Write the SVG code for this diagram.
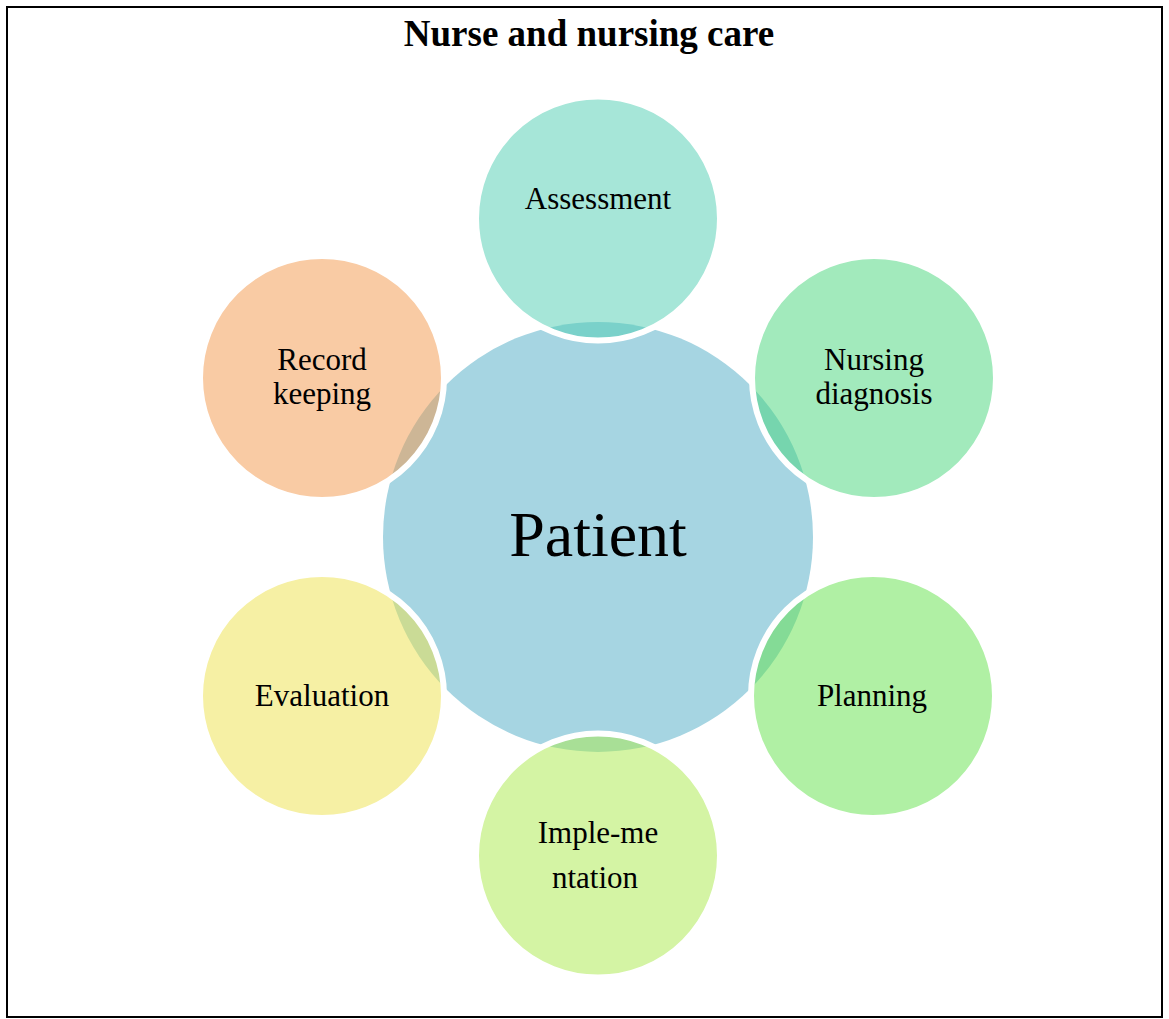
<svg xmlns="http://www.w3.org/2000/svg" width="1169" height="1019" viewBox="0 0 1169 1019">
<style>
.bg{fill:#ffffff}
.frame{fill:none;stroke:#000000;stroke-width:2}
.title{font-family:"Liberation Serif","Times New Roman",serif;font-weight:bold;font-size:37px;fill:#000000;text-anchor:middle}
.hub{fill:#A6D5E2}
.sat{stroke:#ffffff;stroke-width:6;fill-opacity:0.5}
.lbl{font-family:"Liberation Serif","Times New Roman",serif;font-size:31px;fill:#000000;text-anchor:middle}
.big{font-family:"Liberation Serif","Times New Roman",serif;font-size:64px;fill:#000000;text-anchor:middle}
</style>
<rect class="bg" x="0" y="0" width="1169" height="1019"/>
<rect class="frame" x="7" y="7" width="1155" height="1010"/>
<text class="title" x="589" y="46">Nurse and nursing care</text>
<g id="connectors"></g>
<g id="patient">
<circle class="hub" cx="598" cy="537" r="215"/>
<text class="big" x="598" y="556">Patient</text>
</g>
<g id="assessment">
<circle class="sat" cx="598" cy="218.5" r="122" fill="#4DCDB1"/>
<text class="lbl" x="598" y="209">Assessment</text>
</g>
<g id="nursing-diagnosis">
<circle class="sat" cx="874" cy="378" r="122" fill="#45D579"/>
<text class="lbl" x="874" y="370">Nursing</text>
<text class="lbl" x="874" y="404">diagnosis</text>
</g>
<g id="planning">
<circle class="sat" cx="873" cy="696" r="122" fill="#61E149"/>
<text class="lbl" x="872" y="706">Planning</text>
</g>
<g id="implementation">
<circle class="sat" cx="598" cy="855.5" r="122" fill="#A9E949"/>
<text class="lbl" x="598" y="843">Imple-me</text>
<text class="lbl" x="595" y="888">ntation</text>
</g>
<g id="evaluation">
<circle class="sat" cx="322" cy="696" r="122" fill="#EDE149"/>
<text class="lbl" x="322" y="706">Evaluation</text>
</g>
<g id="record-keeping">
<circle class="sat" cx="322" cy="378" r="122" fill="#F39749"/>
<text class="lbl" x="322" y="370">Record</text>
<text class="lbl" x="322" y="404">keeping</text>
</g>
</svg>
